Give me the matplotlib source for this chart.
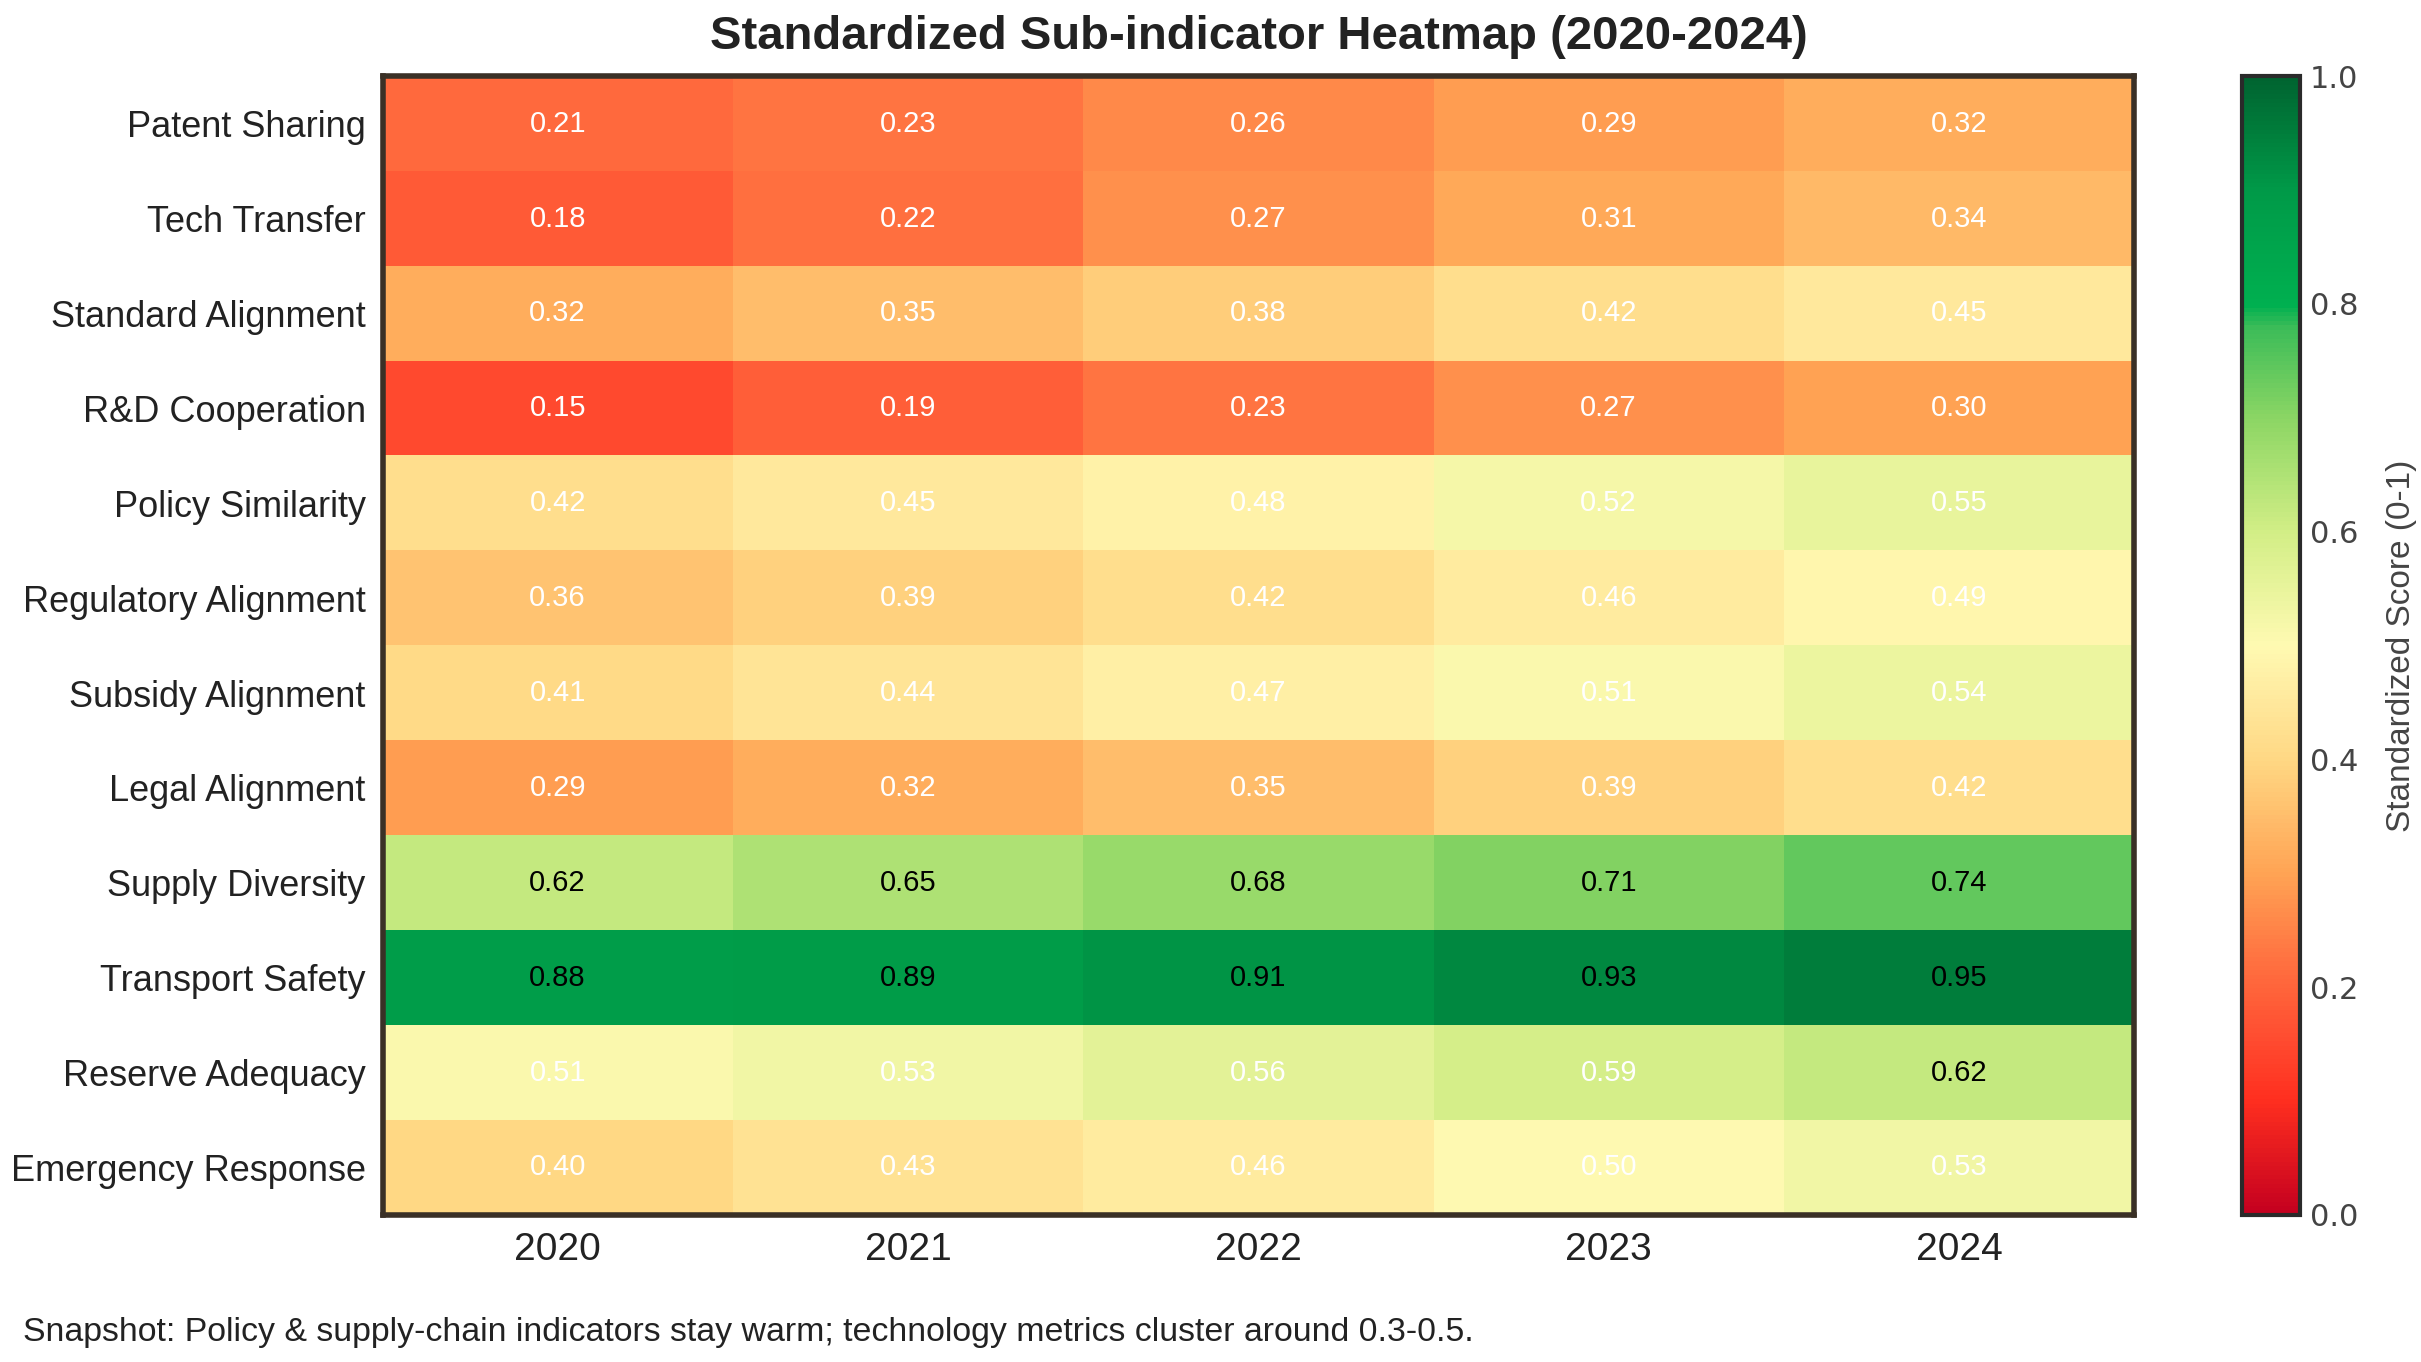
import numpy as np
import matplotlib
matplotlib.use("Agg")
import matplotlib.pyplot as plt
from matplotlib.colors import LinearSegmentedColormap

plt.rcParams["font.family"] = ["Liberation Sans", "DejaVu Sans"]

indicators = [
    "Patent Sharing", "Tech Transfer", "Standard Alignment", "R&D Cooperation",
    "Policy Similarity", "Regulatory Alignment", "Subsidy Alignment", "Legal Alignment",
    "Supply Diversity", "Transport Safety", "Reserve Adequacy", "Emergency Response",
]
years = ["2020", "2021", "2022", "2023", "2024"]

patent_sharing = [0.21, 0.23, 0.26, 0.29, 0.32]
tech_transfer = [0.18, 0.22, 0.27, 0.31, 0.34]
standard_alignment = [0.32, 0.35, 0.38, 0.42, 0.45]
rd_cooperation = [0.15, 0.19, 0.23, 0.27, 0.30]
policy_similarity = [0.42, 0.45, 0.48, 0.52, 0.55]
regulatory_alignment = [0.36, 0.39, 0.42, 0.46, 0.49]
subsidy_alignment = [0.41, 0.44, 0.47, 0.51, 0.54]
legal_alignment = [0.29, 0.32, 0.35, 0.39, 0.42]
supply_diversity = [0.62, 0.65, 0.68, 0.71, 0.74]
transport_safety = [0.88, 0.89, 0.91, 0.93, 0.95]
reserve_adequacy = [0.51, 0.53, 0.56, 0.59, 0.62]
emergency_response = [0.40, 0.43, 0.46, 0.50, 0.53]

scores = np.array([
    patent_sharing, tech_transfer, standard_alignment, rd_cooperation,
    policy_similarity, regulatory_alignment, subsidy_alignment, legal_alignment,
    supply_diversity, transport_safety, reserve_adequacy, emergency_response,
])

# red -> yellow -> green, a bit brighter than stock RdYlGn
cmap = LinearSegmentedColormap.from_list("score", [
    (0.00, "#c4001f"),
    (0.10, "#ff2f1f"),
    (0.15, "#ff4a2f"),
    (0.22, "#ff7040"),
    (0.30, "#ffa454"),
    (0.40, "#ffd884"),
    (0.45, "#ffe89c"),
    (0.50, "#fffab2"),
    (0.60, "#d2ee86"),
    (0.70, "#8cd664"),
    (0.78, "#3cbc58"),
    (0.80, "#00b050"),
    (0.90, "#009a48"),
    (1.00, "#006430"),
])

fig = plt.figure(figsize=(12.105, 6.81), dpi=200)
ax = fig.add_axes([0.158, 0.108, 0.7235, 0.836])
cax = fig.add_axes([0.926, 0.108, 0.024, 0.836])

im = ax.imshow(scores, cmap=cmap, vmin=0, vmax=1, aspect="auto",
               interpolation="nearest")

for i in range(scores.shape[0]):
    for j in range(scores.shape[1]):
        v = scores[i, j]
        ax.text(j, i, f"{v:.2f}", ha="center", va="center", fontsize=10.5,
                color="black" if v > 0.6 else "white")

ax.set_xticks(range(len(years)))
ax.set_xticklabels(years, fontsize=14, color="#222222")
ax.set_yticks(range(len(indicators)))
ax.set_yticklabels(indicators, fontsize=13, color="#222222")
ax.tick_params(length=0, pad=6)
for s in ax.spines.values():
    s.set_linewidth(2)
    s.set_color("#3a3026")

cbar = fig.colorbar(im, cax=cax)
cbar.outline.set_linewidth(1.5)
cbar.outline.set_edgecolor("#2a2a2a")
cbar.ax.tick_params(length=0, labelsize=11, labelcolor="#444444")
for t in cbar.ax.get_yticklabels():
    t.set_family("DejaVu Sans")
cbar.set_label("Standardized Score (0-1)", fontsize=12, color="#444444", labelpad=10)

fig.text(0.52, 0.973, "Standardized Sub-indicator Heatmap (2020-2024)",
         ha="center", va="center", fontsize=17, fontweight="bold", color="#222222")
fig.text(0.0095, 0.022,
         "Snapshot: Policy & supply-chain indicators stay warm; technology metrics cluster around 0.3-0.5.",
         ha="left", va="center", fontsize=12.2, color="#222222")

fig.savefig("out.png", dpi=200)
